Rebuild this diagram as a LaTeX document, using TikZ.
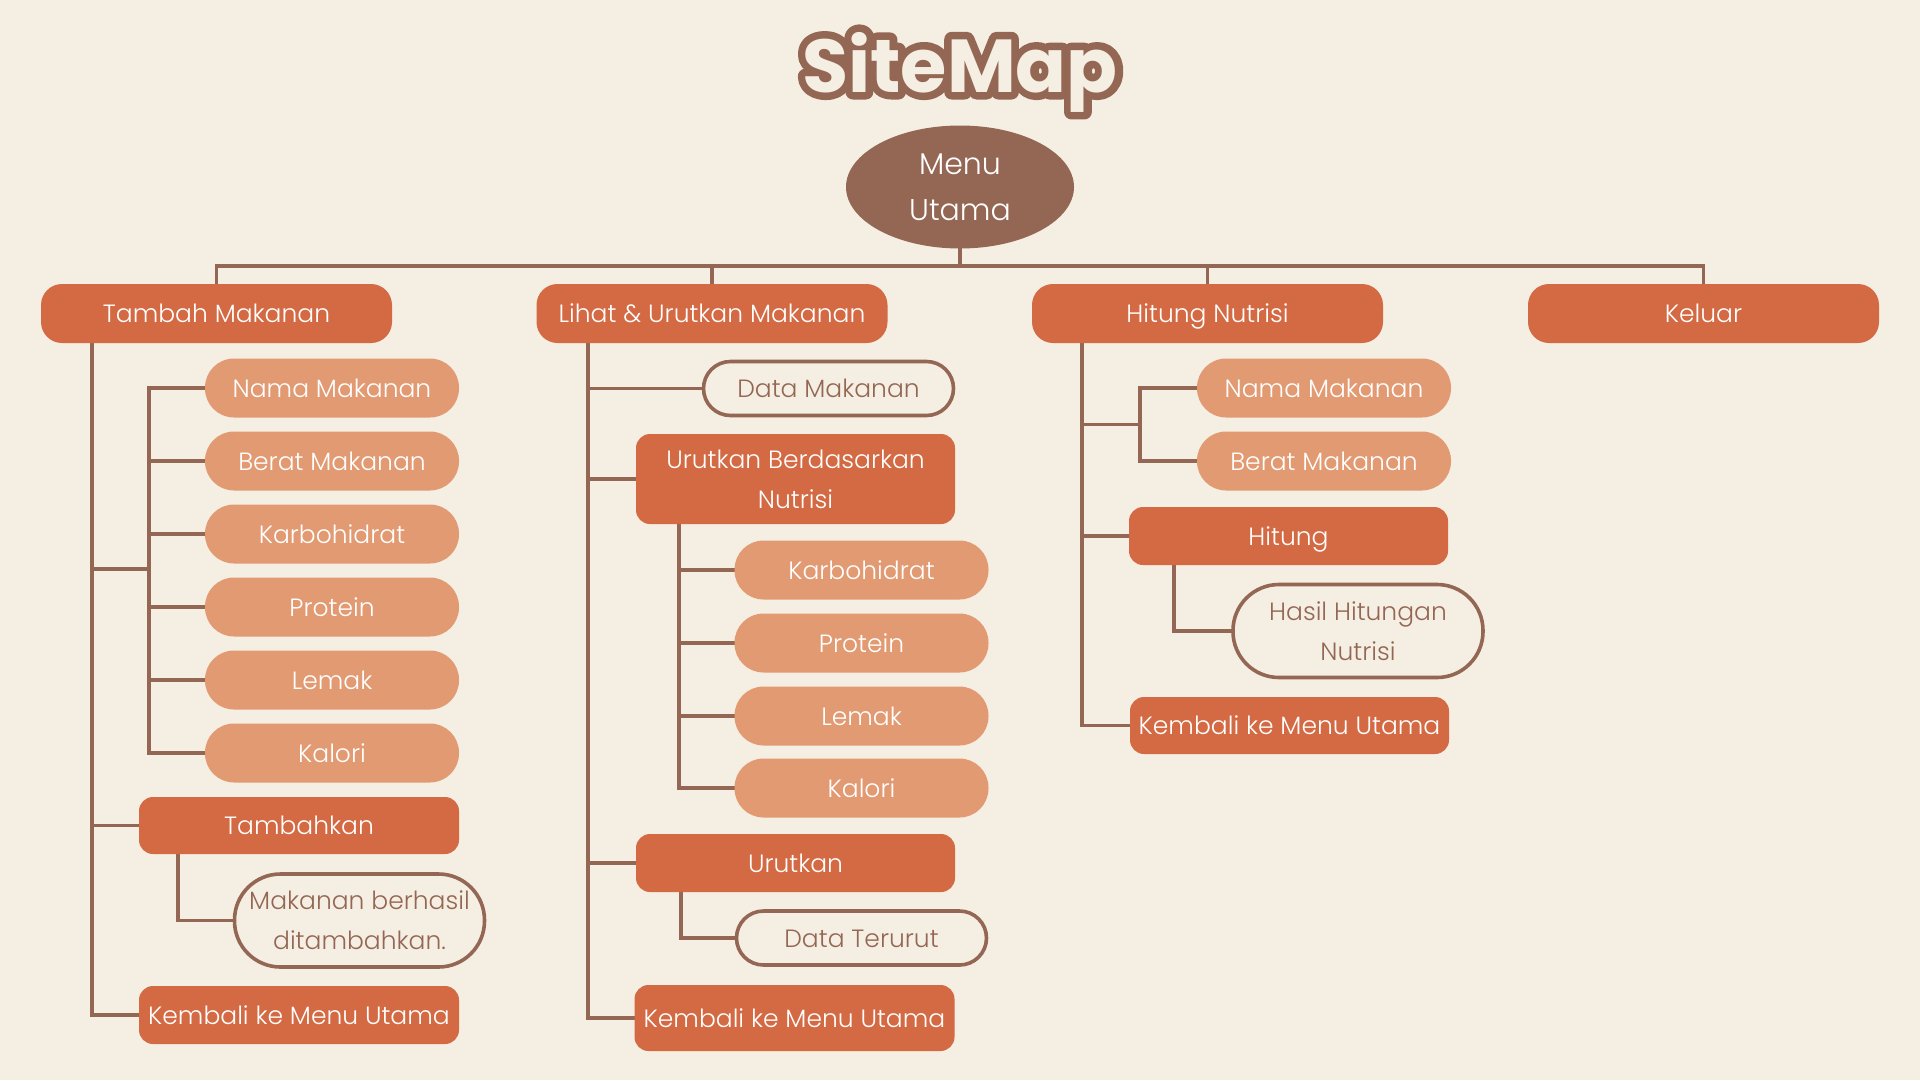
\documentclass[tikz,border=0pt]{standalone}
\usepackage{fontspec}
\setmainfont{Poppins}[UprightFont={* Light}]
\newfontfamily\titlefont{Poppins}[UprightFont={* Bold}]
\usetikzlibrary{shapes.geometric}
\definecolor{bg}{HTML}{F5EEE3}
\definecolor{brownc}{HTML}{946754}
\definecolor{mainc}{HTML}{D46A43}
\definecolor{lightc}{HTML}{E29A73}
\pgfdeclarelayer{paper}
\pgfdeclarelayer{background}
\pgfsetlayers{paper,background,main}
% outlined glyphs: fill and stroke the text with a wide pen
\newcommand\strokedtext[1]{\special{pdf:code q 2 Tr 15 w 1 j 0.580 0.404 0.329 RG}#1\special{pdf:code Q}}
\tikzset{
  box/.style={inner sep=0pt, text=white, font=\fontsize{25}{40}\selectfont,
    text height=18.5pt, text depth=0pt, align=center},
  twolines/.style={text height={}, text depth={}},
  topbox/.style={box, fill=mainc, rounded corners=21pt, minimum width=351pt, minimum height=59pt},
  actbox/.style={box, fill=mainc, rounded corners=14pt, minimum width=320pt, minimum height=58pt},
  pill/.style={box, fill=lightc, rounded corners=29pt, minimum width=254pt, minimum height=59pt},
  outpill/.style={box, draw=brownc, line width=3.6pt, fill=bg, text=brownc,
    rounded corners=27pt, minimum width=250pt, minimum height=54pt},
  bigoutpill/.style={outpill, twolines, rounded corners=46pt, minimum height=93pt},
  conn/.style={draw=brownc, line width=3.8pt, line join=miter, line cap=rect},
  titlestyle/.style={anchor=base, inner sep=0pt, font=\titlefont\fontsize{75}{75}\selectfont},
}
\begin{document}
\begin{tikzpicture}[x=1pt, y=-1pt]
  \begin{pgfonlayer}{paper}
    \fill[bg] (0,0) rectangle (1920,1080);
  \end{pgfonlayer}
  \useasboundingbox (0,0) rectangle (1920,1080);

  % title: wide stroked copy underneath, plain fill on top
  \node[titlestyle, text=brownc] (titleoutline) at (960,92) {\strokedtext{SiteMap}};
  \node[titlestyle, text=bg] (title) at (960,92) {SiteMap};

  % root
  \node[ellipse, fill=brownc, minimum width=228pt, minimum height=123pt, inner sep=0pt,
        text=white, align=center, font=\fontsize{30}{46}\selectfont]
    (menu) at (960,187) {Menu\\Utama};
  \coordinate (hub) at (960,266);

  % first level
  \node[topbox] (tambah) at (216.5,313.5) {Tambah Makanan};
  \node[topbox] (lihat) at (712,313.5) {Lihat \& Urutkan Makanan};
  \node[topbox] (hitungN) at (1207.5,313.5) {Hitung Nutrisi};
  \node[topbox] (keluar) at (1703.5,313.5) {Keluar};

  % Tambah Makanan branch
  \node[pill] (namaA) at (332,388) {Nama Makanan};
  \node[pill] (beratA) at (332,461) {Berat Makanan};
  \node[pill] (karboA) at (332,534) {Karbohidrat};
  \node[pill] (proteinA) at (332,607) {Protein};
  \node[pill] (lemakA) at (332,680) {Lemak};
  \node[pill] (kaloriA) at (332,753) {Kalori};
  \node[actbox, minimum height=57pt] (tambahkan) at (299,825.5) {Tambahkan};
  \node[bigoutpill] (berhasil) at (359.5,920.5) {Makanan berhasil\\ditambahkan.};
  \node[actbox] (kembaliA) at (299,1015) {Kembali ke Menu Utama};

  % Lihat & Urutkan branch
  \node[outpill] (dataMak) at (828.5,388.5) {Data Makanan};
  \node[actbox, twolines, minimum width=319pt, minimum height=90pt] (urutBerd) at (795.5,479)
    {Urutkan Berdasarkan\\Nutrisi};
  \node[pill] (karboB) at (861.5,570) {Karbohidrat};
  \node[pill] (proteinB) at (861.5,643) {Protein};
  \node[pill] (lemakB) at (861.5,716) {Lemak};
  \node[pill] (kaloriB) at (861.5,788) {Kalori};
  \node[actbox, minimum width=319pt] (urutkan) at (795.5,863) {Urutkan};
  \node[outpill] (terurut) at (861.5,938) {Data Terurut};
  \node[actbox, minimum height=66pt] (kembaliB) at (794.5,1018) {Kembali ke Menu Utama};

  % Hitung Nutrisi branch
  \node[pill] (namaC) at (1324,388) {Nama Makanan};
  \node[pill] (beratC) at (1324,461) {Berat Makanan};
  \node[actbox, minimum width=319pt] (hitung) at (1288.5,536) {Hitung};
  \node[bigoutpill] (hasil) at (1358,631) {Hasil Hitungan\\Nutrisi};
  \node[actbox, minimum width=319pt, minimum height=57pt] (kembaliC) at (1289.5,725.5) {Kembali ke Menu Utama};

  % elbow points of the trunks
  \coordinate (trunkA) at ([xshift=51pt]tambah.south west);
  \coordinate (brA) at (149,569);
  \coordinate (trunkB) at ([xshift=52pt]lihat.south west);
  \coordinate (subB) at ([xshift=43pt]urutBerd.south west);
  \coordinate (subB2) at ([xshift=45pt]urutkan.south west);
  \coordinate (trunkC) at ([xshift=50pt]hitungN.south west);
  \coordinate (brC) at (1140,424.5);
  \coordinate (subA) at ([xshift=39pt]tambahkan.south west);
  \coordinate (subC) at ([xshift=45pt]hitung.south west);

  \begin{pgfonlayer}{background}
    % root to first level
    \draw[conn] (menu.south) -- (hub);
    \draw[conn] (tambah.north) -- (tambah.north |- hub) -- (keluar.north |- hub) -- (keluar.north);
    \draw[conn] (lihat.north) -- (lihat.north |- hub);
    \draw[conn] (hitungN.north) -- (hitungN.north |- hub);

    % Tambah Makanan
    \draw[conn] (trunkA) -- (trunkA |- kembaliA.west) -- (kembaliA.west);
    \draw[conn] (trunkA |- brA) -- (brA);
    \draw[conn] (brA |- namaA.west) -- (brA |- kaloriA.west);
    \foreach \n in {namaA,beratA,karboA,proteinA,lemakA,kaloriA}
      \draw[conn] (brA |- \n.west) -- (\n.west);
    \draw[conn] (trunkA |- tambahkan.west) -- (tambahkan.west);
    \draw[conn] (subA) |- (berhasil.west);

    % Lihat & Urutkan Makanan
    \draw[conn] (trunkB) -- (trunkB |- kembaliB.west) -- (kembaliB.west);
    \draw[conn] (trunkB |- dataMak.west) -- (dataMak.west);
    \draw[conn] (trunkB |- urutBerd.west) -- (urutBerd.west);
    \draw[conn] (trunkB |- urutkan.west) -- (urutkan.west);
    \draw[conn] (subB) -- (subB |- kaloriB.west);
    \foreach \n in {karboB,proteinB,lemakB,kaloriB}
      \draw[conn] (subB |- \n.west) -- (\n.west);
    \draw[conn] (subB2) |- (terurut.west);

    % Hitung Nutrisi
    \draw[conn] (trunkC) -- (trunkC |- kembaliC.west) -- (kembaliC.west);
    \draw[conn] (trunkC |- brC) -- (brC);
    \draw[conn] (brC |- namaC.west) -- (brC |- beratC.west);
    \draw[conn] (brC |- namaC.west) -- (namaC.west);
    \draw[conn] (brC |- beratC.west) -- (beratC.west);
    \draw[conn] (trunkC |- hitung.west) -- (hitung.west);
    \draw[conn] (subC) |- (hasil.west);
  \end{pgfonlayer}
\end{tikzpicture}
\end{document}
